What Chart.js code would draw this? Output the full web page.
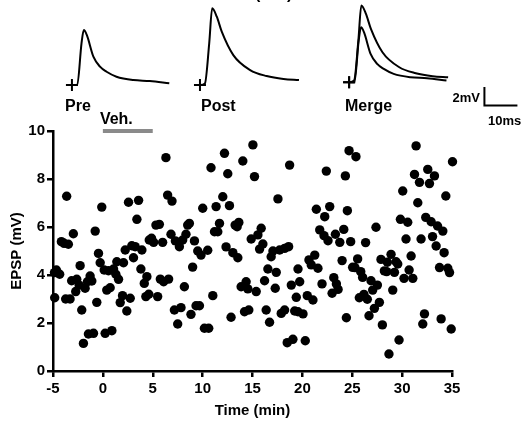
<!DOCTYPE html>
<html>
<head>
<meta charset="utf-8">
<script src="https://cdn.jsdelivr.net/npm/chart.js@4"></script>
<style>
  body { margin: 0; background: #fff; }
  #wrap { position: relative; width: 526px; height: 424px; }
  #wrap canvas { position: absolute; left: 0; top: 0; }
</style>
</head>
<body>
<div id="wrap">
  <canvas id="epspChart" width="526" height="424"></canvas>
  <canvas id="traceChart" width="526" height="130"></canvas>
</div>
<script>
// EPSP amplitude over time (one dot per sweep)
const timeMin = [
  -4.85, -4.83, -4.66, -4.33, -4.16, -3.89, -3.73, -3.63, -3.46, -3.29, -3.13, -2.96, -2.72, -2.62, -2.38, -2.28,
  -2.12, -1.95, -1.78, -1.55, -1.45, -1.28, -1.11, -0.94, -0.77, -0.61, -0.44, -0.27, -0.11, 0.13, 0.23, 0.39,
  0.56, 0.73, 0.90, 1.07, 1.30, 1.40, 1.57, 1.74, 1.97, 2.07, 2.24, 2.40, 2.57, 2.74, 2.90, 3.07,
  3.24, 3.41, 3.58, 3.81, 3.91, 4.15, 4.31, 4.41, 4.60, 4.65,
  4.88, 5.09, 5.32, 5.49, 5.66, 5.76, 5.99, 6.09, 6.32, 6.49, 6.59, 6.83, 6.93, 7.17, 7.27, 7.50,
  7.67, 7.83, 8.00, 8.17, 8.33, 8.50, 8.67, 8.83, 9.00, 9.18, 9.34, 9.51, 9.68, 9.84, 10.01, 10.18,
  10.51, 10.61, 10.84, 11.02, 11.19, 11.35, 11.52, 11.69, 12.02, 12.19, 12.35, 12.52, 12.69, 12.85, 13.03, 13.26,
  13.46, 13.53, 13.63, 13.86, 14.03, 14.20, 14.36, 14.53, 14.63,
  14.87, 15.04, 15.20, 15.37, 15.54, 15.71, 15.87, 16.04, 16.21, 16.37, 16.54, 16.71, 16.87, 17.05, 17.28, 17.38,
  17.55, 17.72, 17.88, 18.22, 18.22, 18.48, 18.62, 18.72, 18.89, 19.05, 19.23, 19.39, 19.56, 19.56, 19.73, 20.06,
  20.29, 20.49, 20.66, 20.89, 21.06, 21.24, 21.40, 21.56, 21.74, 21.97, 22.17, 22.24, 22.40, 22.57, 22.74, 22.98,
  23.15, 23.31, 23.41, 23.58, 23.75, 23.98, 24.15, 24.31, 24.41, 24.51, 24.68,
  24.84, 25.04, 25.27, 25.37, 25.54, 25.71, 25.85, 26.04, 26.17, 26.34, 26.51, 26.68, 26.88, 27.05, 27.22, 27.38,
  27.52, 27.72, 27.88, 28.02, 28.22, 28.45, 28.52, 28.68, 28.89, 29.06, 29.23, 29.39, 29.56, 29.69, 29.83, 30.06,
  30.19, 30.39, 30.56, 30.70, 30.90, 31.07, 31.24, 31.40, 31.57, 31.74, 31.90, 32.07, 32.24, 32.37, 32.57, 32.74,
  32.91, 33.05, 33.24, 33.41, 33.55, 33.75, 33.91, 34.08, 34.21, 34.38, 34.58, 34.75, 34.92, 35.05
];
const epspMv = [
  4.10, 3.05, 4.21, 4.03, 5.39, 5.32, 3.00, 7.28, 5.28, 3.00, 3.76, 5.72, 3.31, 3.82, 3.58, 4.39,
  2.54, 1.15, 3.45, 3.72, 1.54, 3.96, 3.75, 1.57, 5.83, 2.86, 4.90, 4.51, 6.83, 4.21, 1.57, 3.37,
  4.18, 3.47, 1.68, 4.25, 4.03, 4.55, 3.82, 2.85, 3.14, 4.51, 5.04, 2.50, 7.03, 3.03, 5.22, 4.72,
  5.18, 6.32, 7.11, 4.25, 5.04, 3.65, 3.10, 3.93, 3.20, 5.46,
  5.53, 5.36, 6.08, 3.10, 6.11, 3.83, 5.36, 3.72, 8.89, 7.33, 3.83, 5.70, 7.08, 2.54, 5.42, 1.96,
  5.18, 2.64, 5.46, 3.51, 5.70, 6.08, 6.15, 2.36, 4.33, 5.42, 2.72, 5.00, 2.72, 4.83, 6.78, 1.78,
  5.03, 1.78, 8.47, 3.14, 5.80, 6.85, 5.80, 6.15, 7.26, 9.07, 5.17, 8.22, 6.89, 2.24, 4.93, 6.08,
  6.01, 4.72, 6.19, 3.51, 8.75, 2.47, 3.72, 3.42, 2.54,
  5.50, 9.42, 8.10, 3.31, 5.67, 5.08, 5.95, 5.29, 3.76, 2.54, 4.25, 2.03, 4.76, 5.00, 3.45, 4.11,
  7.17, 5.04, 2.40, 5.11, 2.54, 1.18, 5.18, 8.58, 3.58, 1.32, 2.50, 3.07, 4.25, 2.47, 3.72, 2.38,
  1.26, 3.14, 4.63, 4.42, 2.96, 4.83, 6.74, 4.28, 5.88, 3.63, 5.64, 6.43, 8.33, 5.43, 6.85, 3.24,
  3.89, 5.70, 3.63, 3.40, 5.36, 4.60, 5.90, 8.13, 2.22, 6.68, 9.18,
  5.39, 4.32, 4.31, 8.93, 4.67, 3.05, 4.14, 3.90, 3.19, 5.35, 2.99, 2.30, 3.76, 3.37, 2.61, 5.99,
  3.58, 2.86, 4.65, 1.92, 4.17, 4.14, 4.53, 0.71, 4.86, 3.37, 4.11, 4.55, 4.46, 1.29, 6.32, 7.50,
  3.86, 5.50, 6.20, 4.21, 4.79, 3.86, 8.19, 9.38, 7.01, 7.86, 5.50, 1.96, 2.38, 6.40, 8.40, 7.81,
  6.22, 5.60, 8.13, 5.21, 6.04, 4.31, 2.17, 5.83, 4.93, 7.29, 4.28, 4.10, 1.75, 8.72
];

// vehicle application bar (min)
const vehBarX = [0, 5];
const vehBarY = [10, 10];

// example EPSP traces (ms after stimulus, mV)
const preTraceMs = [0, 1.6, 2.9, 3.6, 4.5, 6.5, 8.5, 10.5, 13.5, 18.6, 23.6, 29.5];
const preTraceMv = [0, 0, 4.46, 5.88, 5.35, 3.03, 1.96, 1.42, 0.89, 0.53, 0.43, 0.18];
const postTraceMs = [0, 1.5, 2.8, 3.7, 5.1, 6.6, 10.1, 15.2, 20.2, 25.3, 30.0];
const postTraceMv = [0, 0.18, 4.46, 8.2, 7.3, 5.7, 3.2, 1.6, 0.96, 0.64, 0.53];

// scale bar: 10 ms by 2 mV
const scaleBarMs = [146.8, 146.8, 156.8];
const scaleBarMv = [-0.2, -2.2, -2.2];

Chart.defaults.font.family = '"Liberation Sans", Arial, sans-serif';
Chart.defaults.color = '#000';

const FONT = '"Liberation Sans", Arial, sans-serif';

const vehLabel = {
  id: 'vehLabel',
  afterDraw(chart) {
    const ctx = chart.ctx;
    const x = chart.scales.x.getPixelForValue(vehBarX[0]);
    ctx.save();
    ctx.font = 'bold 16px ' + FONT;
    ctx.fillStyle = '#000';
    ctx.textBaseline = 'alphabetic';
    ctx.fillText('Veh.', x - 3, 124);
    ctx.restore();
  }
};

new Chart(document.getElementById('epspChart'), {
  type: 'scatter',
  data: {
    datasets: [
      {
        data: timeMin.map((t, i) => ({ x: t, y: epspMv[i] })),
        backgroundColor: '#000',
        borderWidth: 0,
        pointRadius: 4.7,
        clip: false
      },
      {
        data: vehBarX.map((t, i) => ({ x: t, y: vehBarY[i] })),
        showLine: true,
        borderColor: '#8a8a8a',
        borderWidth: 4,
        pointRadius: 0,
        clip: false
      }
    ]
  },
  options: {
    responsive: false,
    animation: false,
    layout: { autoPadding: false, padding: { left: 0, right: 74, top: 131, bottom: 0 } },
    scales: {
      x: {
        type: 'linear',
        min: -5,
        max: 35,
        afterFit: (s) => { s.height = 53; },
        ticks: { stepSize: 5, font: { size: 15, weight: 'bold' }, padding: 3, color: '#000' },
        grid: { drawOnChartArea: false, drawTicks: true, tickLength: 6, color: '#000', lineWidth: 2.5 },
        border: { color: '#000', width: 2.5 },
        title: { display: true, text: 'Time (min)', font: { size: 15, weight: 'bold' }, color: '#000', padding: { top: 4, bottom: 4 } }
      },
      y: {
        min: 0,
        max: 10,
        afterFit: (s) => { s.width = 53; },
        ticks: { stepSize: 2, font: { size: 15, weight: 'bold' }, padding: 2, color: '#000' },
        grid: { drawOnChartArea: false, drawTicks: true, tickLength: 6, color: '#000', lineWidth: 2.5 },
        border: { color: '#000', width: 2.5 },
        title: { display: true, text: 'EPSP (mV)', font: { size: 15, weight: 'bold' }, color: '#000', padding: { top: 8, bottom: 0 } }
      }
    },
    plugins: { legend: { display: false }, tooltip: { enabled: false } }
  },
  plugins: [vehLabel]
});

// traces panel drawn on its own canvas above the scatter plot
const traceLabels = {
  id: 'traceLabels',
  afterDraw(chart) {
    const ctx = chart.ctx;
    ctx.save();
    ctx.fillStyle = '#000';
    ctx.textBaseline = 'alphabetic';
    ctx.font = 'bold 16px ' + FONT;
    ctx.fillText('Pre', 65, 111);
    ctx.fillText('Post', 201, 111);
    ctx.fillText('Merge', 345, 111);
    // title above the panel, cut off by the top edge
    ctx.fillText('(      )', 255, -1);
    ctx.font = 'bold 13px ' + FONT;
    ctx.textAlign = 'right';
    ctx.fillText('2mV', 480, 102);
    ctx.textAlign = 'left';
    ctx.fillText('10ms', 488, 125);
    ctx.restore();
  }
};

function shift(ms, mv, dx, dy) {
  return ms.map((t, i) => ({ x: t + dx, y: mv[i] + dy }));
}

const traceStyle = {
  showLine: true,
  borderColor: '#000',
  borderWidth: 2,
  cubicInterpolationMode: 'monotone',
  pointStyle: 'cross',
  pointBorderColor: '#000',
  pointBorderWidth: 2,
  pointRadius: (c) => (c.dataIndex === 0 ? 6 : 0),
  clip: false
};

new Chart(document.getElementById('traceChart'), {
  type: 'scatter',
  data: {
    datasets: [
      Object.assign({ data: shift(preTraceMs, preTraceMv, 21.8, 0) }, traceStyle),
      Object.assign({ data: shift(postTraceMs, postTraceMv, 60.6, 0) }, traceStyle),
      Object.assign({ data: shift(preTraceMs, preTraceMv, 105.8, 0.3) }, traceStyle),
      Object.assign({ data: shift(postTraceMs, postTraceMv, 105.8, 0.3) }, traceStyle),
      {
        data: scaleBarMs.map((t, i) => ({ x: t, y: scaleBarMv[i] })),
        showLine: true,
        borderColor: '#000',
        borderWidth: 2,
        pointRadius: 0,
        clip: false
      }
    ]
  },
  options: {
    responsive: false,
    animation: false,
    layout: { autoPadding: false, padding: 0 },
    scales: {
      x: { type: 'linear', display: false, min: 0, max: 159.4 },
      y: { display: false, min: -4.81, max: 9.09 }
    },
    plugins: { legend: { display: false }, tooltip: { enabled: false } }
  },
  plugins: [traceLabels]
});
</script>
</body>
</html>
